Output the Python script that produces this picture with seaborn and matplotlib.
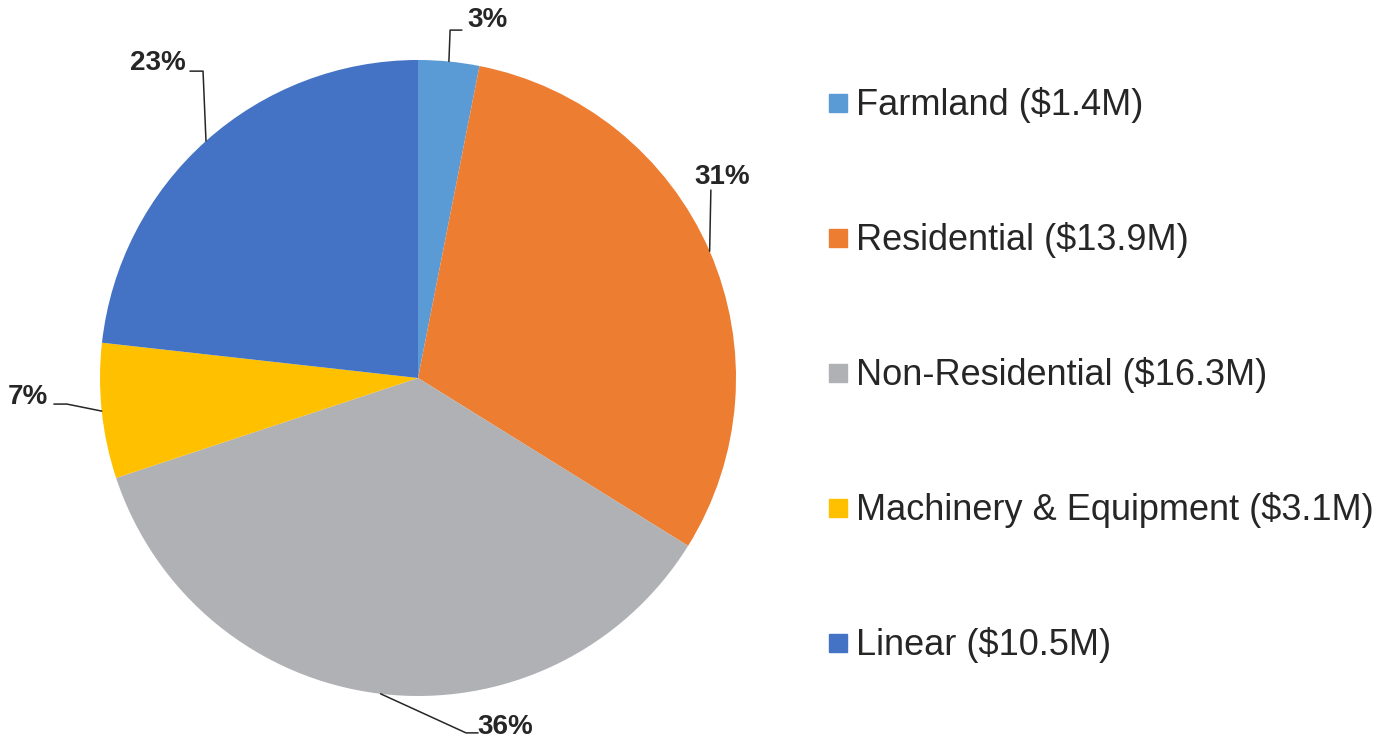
import matplotlib.pyplot as plt
import seaborn as sns
from matplotlib.lines import Line2D
import numpy as np

categories = ["Farmland", "Residential", "Non-Residential", "Machinery & Equipment", "Linear"]
values = [1.4, 13.9, 16.3, 3.1, 10.5]
colors = ["#5B9BD5", "#ED7D31", "#B0B1B4", "#FFC000", "#4472C4"]

# label layout in unit-radius coords, in pie order: elbow of leader line, line end, label centre
elbows = [(0.101, 1.094), (0.921, 0.591), (0.151, -1.116), (-1.104, -0.082), (-0.676, 0.965)]
ends = [(0.138, 1.094), (0.921, 0.591), (0.189, -1.116), (-1.145, -0.082), (-0.717, 0.965)]
label_pos = [(0.217, 1.126), (0.956, 0.632), (0.274, -1.097), (-1.226, -0.060), (-0.818, 0.991)]

sns.set_theme(style="white")
plt.rcParams['font.family'] = ['Liberation Sans', 'DejaVu Sans']
text_color = "#262626"

W, H = 1388, 738
fig = plt.figure(figsize=(W / 100, H / 100), dpi=100)
cx, cy, r = 418, 378, 318
ax = fig.add_axes([(cx - r) / W, (H - cy - r) / H, 2 * r / W, 2 * r / H])

wedges, _ = ax.pie(values, colors=colors, startangle=90, counterclock=False,
                   radius=1, wedgeprops=dict(linewidth=0))
ax.set_xlim(-1, 1)
ax.set_ylim(-1, 1)
ax.set_aspect("equal")
ax.axis("off")

total = sum(values)
for i, w in enumerate(wedges):
    ang = np.deg2rad((w.theta1 + w.theta2) / 2)
    x0, y0 = np.cos(ang), np.sin(ang)
    xs = [x0, elbows[i][0], ends[i][0]]
    ys = [y0, elbows[i][1], ends[i][1]]
    ax.plot(xs, ys, color=text_color, lw=1.1, clip_on=False)
    pct = values[i] / total * 100
    ax.text(label_pos[i][0], label_pos[i][1], f"{pct:.0f}%", ha="center", va="center",
            fontsize=20, fontweight="bold", color=text_color, clip_on=False)

handles = [Line2D([], [], marker="s", linestyle="none", markersize=13,
                  markerfacecolor=c, markeredgecolor=c) for c in colors]
labels = [f"{c} (${v}M)" for c, v in zip(categories, values)]
fig.legend(handles, labels, loc="upper left", bbox_to_anchor=(805 / W, 1 - 73 / H),
           frameon=False, fontsize=26, labelspacing=2.74, handletextpad=0.0,
           handlelength=1.0, borderaxespad=0, labelcolor=text_color)

fig.savefig("out.png", dpi=100)
